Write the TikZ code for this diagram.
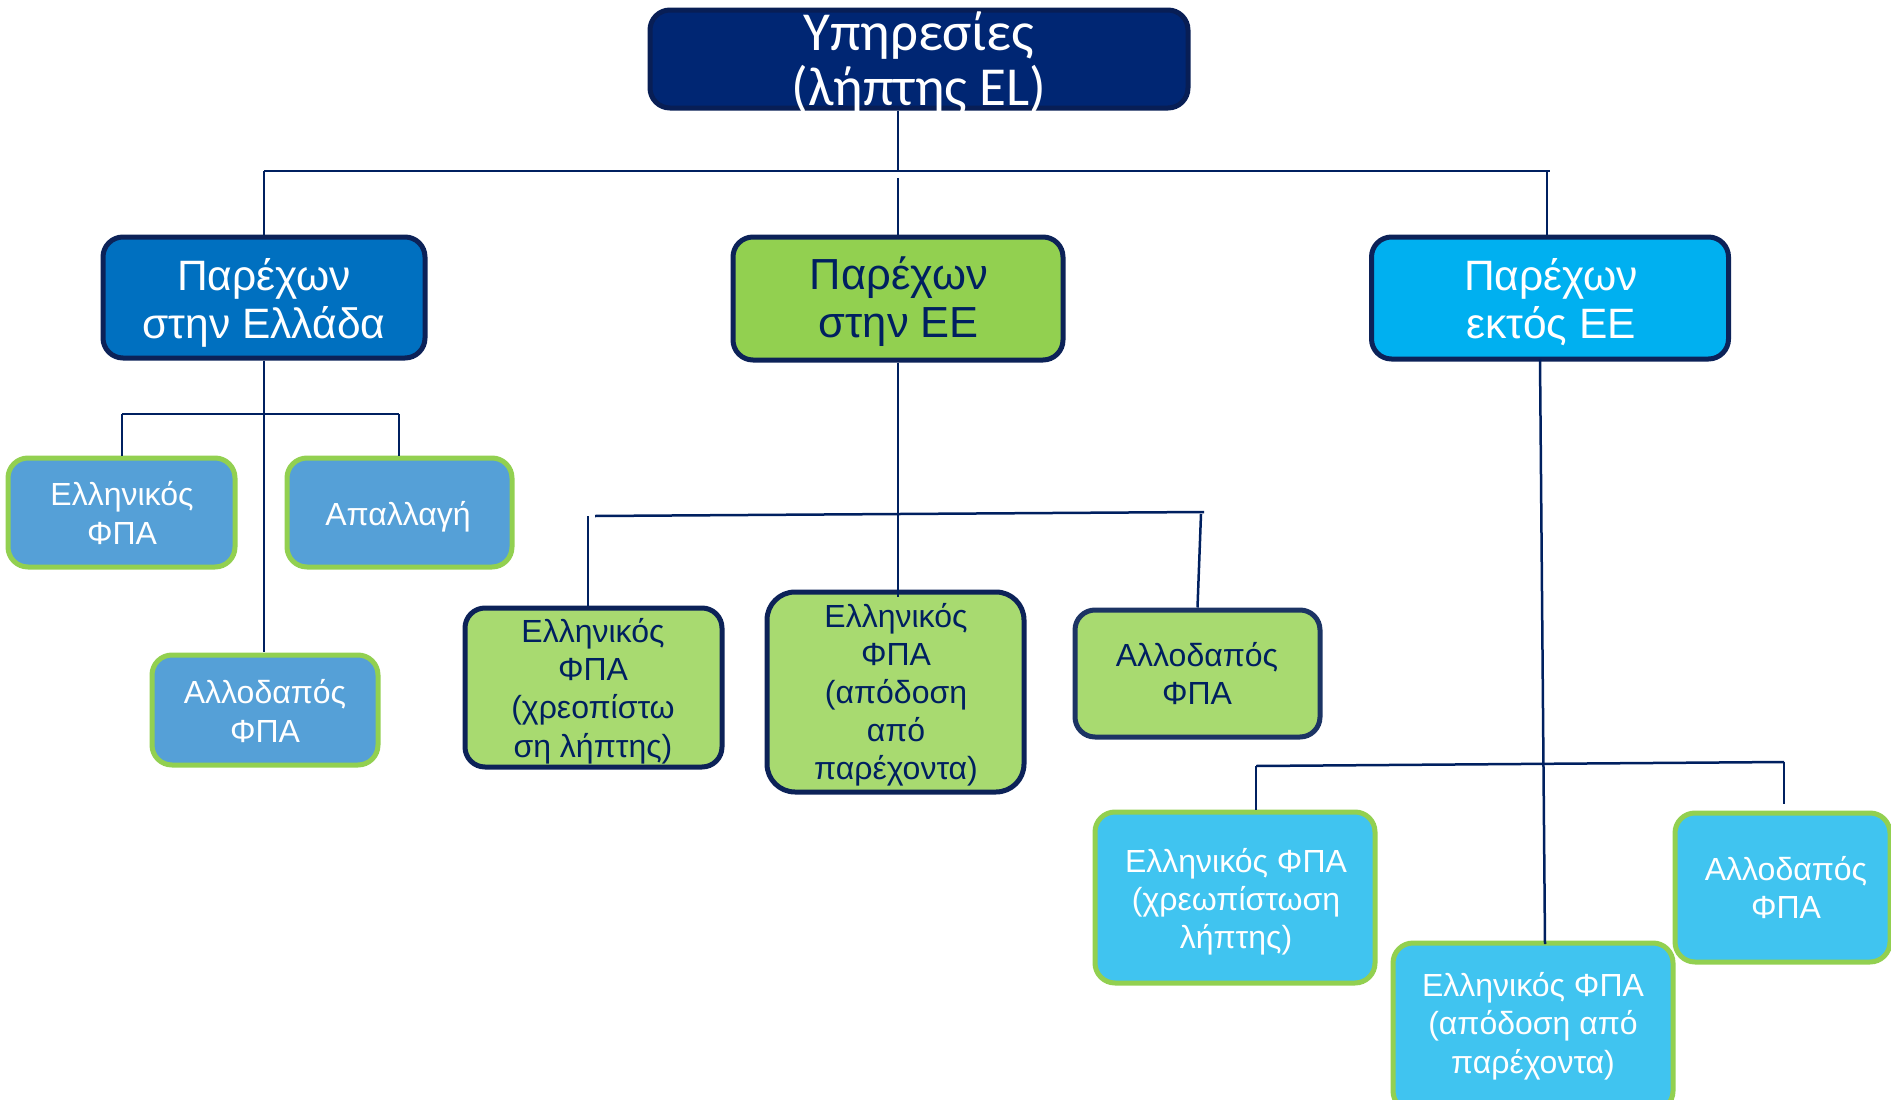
\documentclass[tikz,border=0pt]{standalone}
\usepackage{fontspec}
\setmainfont{Liberation Sans}
\newfontfamily\topfont{Carlito}
\newcommand\tightlines{\lineskiplimit=-1000pt\relax}
\definecolor{navy}{RGB}{0,32,96}
\definecolor{navyborder}{RGB}{12,34,88}
\definecolor{navyborderB}{RGB}{28,52,100}
\definecolor{topfill}{RGB}{0,38,115}
\definecolor{topborder}{RGB}{8,30,85}
\definecolor{blueA}{RGB}{0,112,192}
\definecolor{greenA}{RGB}{146,208,80}
\definecolor{cyanA}{RGB}{0,176,240}
\definecolor{blueB}{RGB}{85,160,215}
\definecolor{greenB}{RGB}{168,218,112}
\definecolor{cyanB}{RGB}{64,196,240}
\definecolor{greenEdge}{RGB}{146,208,80}
\tikzset{
  boxbase/.style={rounded corners=20, line width=5, inner sep=0pt},
  topbox/.style={boxbase, fill=topfill, draw=topborder},
  lvltwo/.style={boxbase, draw=navyborder},
  leftleaf/.style={boxbase, fill=blueB, draw=greenEdge},
  midleaf/.style={boxbase, fill=greenB, draw=navyborder},
  rightleaf/.style={boxbase, fill=cyanB, draw=greenEdge},
  txt/.style={anchor=base, align=center, inner sep=0pt},
  toptxt/.style={txt, text=white, font={\topfont\fontsize{55}{55}\selectfont\tightlines}},
  twotxt/.style={txt, font={\fontsize{42.5}{48}\selectfont\tightlines}},
  leaftxt/.style={txt, font={\fontsize{32}{#1}\selectfont\tightlines}},
  leaftxt/.default=38.5,
  conn/.style={draw=navy, line width=2.5}
}
\begin{document}
\begin{tikzpicture}[x=1pt,y=-1pt]
\useasboundingbox (0,0) rectangle (1891,1100);
\clip (0,0) rectangle (1891,1100);

% ---------- boxes ----------
\node[topbox, minimum width=538, minimum height=98] (T) at (919,59) {};

\node[lvltwo, fill=blueA, minimum width=322, minimum height=121] (L) at (264,297.5) {};
\node[lvltwo, fill=greenA, minimum width=330, minimum height=123] (M) at (898,298.5) {};
\node[lvltwo, fill=cyanA, minimum width=357, minimum height=122] (R) at (1550,298) {};

\node[leftleaf, minimum width=227, minimum height=109] (L3a) at (121.5,512.5) {};
\node[leftleaf, minimum width=225, minimum height=109] (L3b) at (399.5,512.5) {};
\node[leftleaf, minimum width=226, minimum height=110] (L3c) at (265,710) {};

\node[midleaf, minimum width=257, minimum height=159] (M3a) at (593.5,687.5) {};
\node[midleaf, rounded corners=28, minimum width=257, minimum height=200] (M3b) at (895.5,692) {};
\node[midleaf, draw=navyborderB, minimum width=245, minimum height=127] (M3c) at (1197.5,673.5) {};

\node[rightleaf, minimum width=280, minimum height=171] (R3a) at (1235,897.5) {};
\node[rightleaf, minimum width=280, minimum height=168] (R3b) at (1533,1027) {};
\node[rightleaf, minimum width=215, minimum height=149] (R3c) at (1782.5,887.5) {};

% ---------- top connectors ----------
\coordinate (busL) at (264,171);
\coordinate (busR) at (1550,171);
\coordinate (gapTop) at (898,178);
\draw[conn] (busL) -- (busR);
\draw[conn] (T.south -| gapTop) -- (gapTop |- busL);
\draw[conn] (gapTop) -- (gapTop |- M.north);
\draw[conn] (L.north) -- (L.north |- busL);
\coordinate (rUp) at (1547,172);
\draw[conn] (rUp) -- (rUp |- R.north);

% ---------- left subtree ----------
\coordinate (lbus1) at (122,414);
\coordinate (lbus2) at (399,414);
\coordinate (lbot) at (264,652);
\draw[conn] (L.south) -- (lbot);
\draw[conn] (lbus1) -- (lbus2);
\draw[conn] (lbus1) -- (lbus1 |- L3a.north);
\draw[conn] (lbus2) -- (lbus2 |- L3b.north);

% ---------- middle subtree ----------
\coordinate (mbot) at (898,597);
\coordinate (mbus1) at (595,516);
\coordinate (mbus2) at (1204,512);
\coordinate (mdrop1) at (588,516);
\coordinate (mdrop2) at (1201,514);
\draw[conn] (M.south) -- (mbot);
\draw[conn] (mbus1) -- (mbus2);
\draw[conn] (mdrop1) -- (mdrop1 |- M3a.north);
\draw[conn] (mdrop2) -- (M3c.north);

% ---------- right subtree ----------
\coordinate (rtop) at (1540,359);
\coordinate (rbot) at (1545,944);
\coordinate (rbus1) at (1256,766);
\coordinate (rbus2) at (1784,762);
\coordinate (rdrop2) at (1784,804);
\draw[conn] (rtop) -- (rbot);
\draw[conn] (rbus1) -- (rbus2);
\draw[conn] (rbus1) -- (rbus1 |- R3a.north);
\draw[conn] (rbus2) -- (rdrop2);

% ---------- texts (anchor = last baseline) ----------
\node[toptxt] (Tt) at (919,105) {Υπηρεσίες\\(λήπτης EL)};

\node[twotxt, text=white] (Lt) at (264,338) {Παρέχων\\στην Ελλάδα};
\node[twotxt, text=navy, font={\fontsize{43.5}{48}\selectfont\tightlines}] (Mt) at (899,337) {Παρέχων\\στην ΕΕ};
\node[twotxt, text=white] (Rt) at (1551,338) {Παρέχων\\εκτός ΕΕ};

\node[leaftxt=39, text=white] (L3at) at (122,544) {Ελληνικός\\ΦΠΑ};
\node[leaftxt=39, text=white] (L3bt) at (398,525) {Απαλλαγή};
\node[leaftxt=39, text=white] (L3ct) at (265,742) {Αλλοδαπός\\ΦΠΑ};

\node[leaftxt=38.3, text=navy] (M3at) at (593,757) {Ελληνικός\\ΦΠΑ\\(χρεοπίστω\\ση λήπτης)};
\node[leaftxt=38, text=navy] (M3bt) at (896,779) {Ελληνικός\\ΦΠΑ\\(απόδοση\\από\\παρέχοντα)};
\node[leaftxt=38, text=navy] (M3ct) at (1197,704) {Αλλοδαπός\\ΦΠΑ};

\node[leaftxt=38, text=white] (R3at) at (1236,948) {Ελληνικός ΦΠΑ\\(χρεωπίστωση\\λήπτης)};
\node[leaftxt=38.5, text=white] (R3bt) at (1533,1073) {Ελληνικός ΦΠΑ\\(απόδοση από\\παρέχοντα)};
\node[leaftxt=38, text=white] (R3ct) at (1786,918) {Αλλοδαπός\\ΦΠΑ};
\end{tikzpicture}
\end{document}
